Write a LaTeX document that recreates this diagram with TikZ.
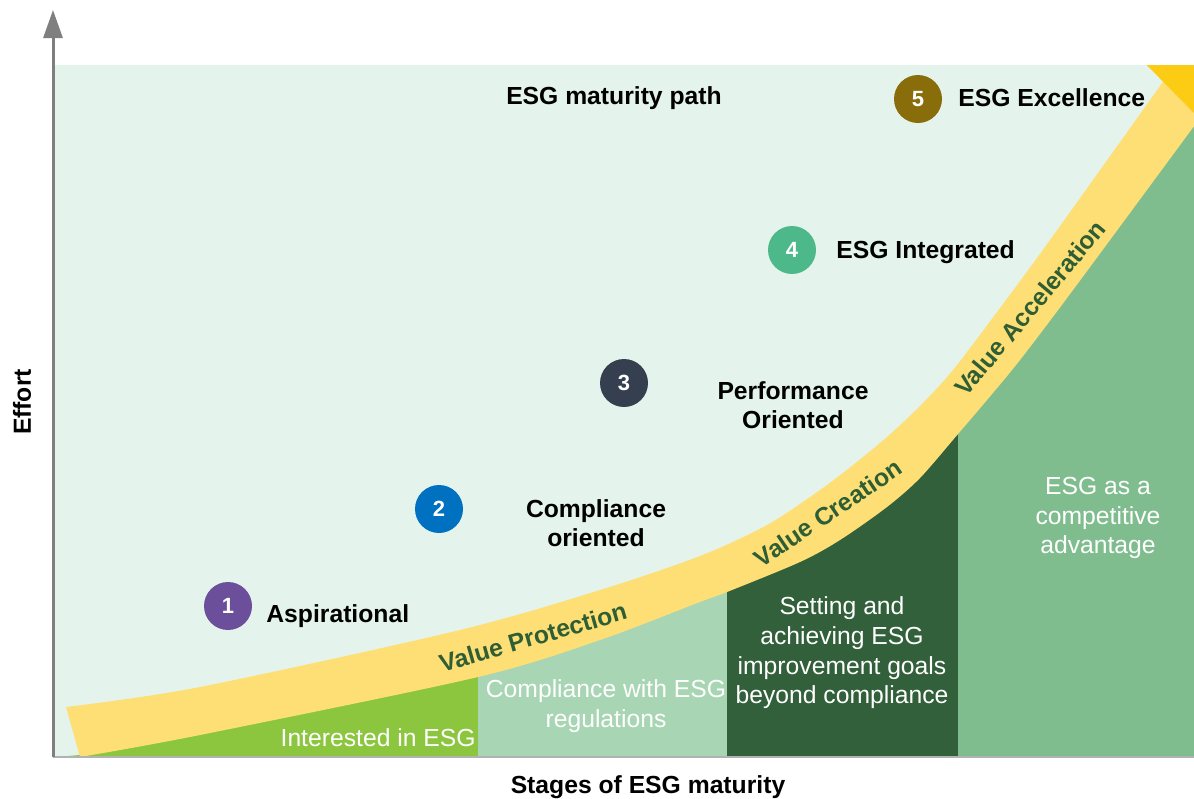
\documentclass[tikz,border=0pt]{standalone}
\usepackage{fontspec}
\setmainfont{Liberation Sans}
\usetikzlibrary{arrows.meta}
\definecolor{panelmint}{HTML}{E4F4EC}
\definecolor{bandyellow}{HTML}{FEDF76}
\definecolor{headyellow}{HTML}{FCCB14}
\definecolor{stageA}{HTML}{8CC63F}
\definecolor{stageB}{HTML}{A8D5B3}
\definecolor{stageC}{HTML}{31603A}
\definecolor{stageD}{HTML}{80BD8E}
\definecolor{bandtext}{HTML}{2F5E35}
\definecolor{dotA}{HTML}{6B4F9A}
\definecolor{dotB}{HTML}{0070C0}
\definecolor{dotC}{HTML}{353F4F}
\definecolor{dotD}{HTML}{4DB88A}
\definecolor{dotE}{HTML}{8A6D0B}
\definecolor{axisgray}{HTML}{7F7F7F}
\tikzset{
	numdot/.style={circle,minimum size=24pt,inner sep=0pt,text=white,font=\fontsize{11}{13}\selectfont\bfseries},
	levellabel/.style={font=\fontsize{12.35}{14.8}\selectfont\bfseries,align=center,inner sep=0pt},
	stagelabel/.style={text=white,font=\fontsize{12.35}{14.8}\selectfont,align=center,inner sep=0pt},
	bandlabel/.style={text=bandtext,font=\fontsize{12.35}{14.8}\selectfont\bfseries,inner sep=0pt},
}

\begin{document}
\begin{tikzpicture}[x=0.5pt,y=-0.5pt]
		\useasboundingbox (0,0) rectangle (1194,798);
		\fill[panelmint] (55,65) rectangle (1194,757);
		\begin{scope}
			\clip (55,65) rectangle (1194,757);
			\begin{scope}
				\clip (55,757) -- plot[smooth] coordinates {(80,755) (200,733) (478,675) (600,638) (700,600) (727,590) (800,560) (840,538) (887,505) (920,476) (958,432) (987,398) (1020,358) (1073,288) (1200,116)} -- (1200,757) -- cycle;
				\foreach \a/\b/\c in {55/478/stageA,478/727/stageB,727/958/stageC,958/1200/stageD} \fill[\c] (\a,60) rectangle (\b,757);
			\end{scope}
			\fill[bandyellow] plot[smooth] coordinates {(80,757) (200,735) (478,677) (600,640) (700,602) (727,592) (800,562) (840,540) (887,507) (920,478) (958,434) (987,400) (1020,360) (1073,290) (1200,118)} -- plot[smooth] coordinates {(1165,79) (1050,240) (1000,308) (953,370) (920,406) (887,437) (853,465) (820,490) (767,525) (700,556) (600,590) (460,630) (200,687) (66,707)} -- cycle;
			\fill[headyellow] (1130,48) -- (1245,165) -- (1260,-10) -- cycle;
		\end{scope}
		\coordinate (origin) at (53,757);
		\coordinate (ytip) at (53,10);
		\coordinate (xend) at (1194,757);
		\draw[axisgray!60,line width=1pt] (origin) -- (xend);
		\draw[axisgray,line width=1.5pt,-{Triangle[length=14pt,width=9.5pt]}] (origin) -- (ytip);
		\foreach \n/\x/\y/\c in {1/228/606/dotA,2/439/509/dotB,3/624/383/dotC,4/792/250/dotD,5/918/99/dotE} \node[numdot,fill=\c] (dot\n) at (\x,\y) {\n};
		\node[levellabel,anchor=base] (title) at (614,104) {ESG maturity path};
		\node[levellabel,anchor=base west] (level1) at (266,622) {Aspirational};
		\node[levellabel] (level2) at (596,523) {Compliance\\oriented};
		\node[levellabel] (level3) at (793,405) {Performance\\Oriented};
		\node[levellabel,anchor=base west] (level4) at (836,258) {ESG Integrated};
		\node[levellabel,anchor=base west] (level5) at (958,106) {ESG Excellence};
		\node[stagelabel,anchor=base east] (stage1) at (476,746) {Interested in ESG};
		\node[stagelabel] (stage2) at (606,706) {Compliance with ESG\\regulations};
		\node[stagelabel] (stage3) at (842,653) {Setting and\\achieving ESG\\improvement goals\\beyond compliance};
		\node[stagelabel] (stage4) at (1098,518) {ESG as a\\competitive\\advantage};
		\node[bandlabel,rotate=16] (protect) at (533,637) {Value Protection};
		\node[bandlabel,rotate=34] (create) at (828,513) {Value Creation};
		\node[bandlabel,rotate=50] (accel) at (1030,308) {Value Acceleration};
		\node[levellabel,rotate=90] (effort) at (22,402) {Effort};
		\node[levellabel,anchor=base] (stages) at (648,793) {Stages of ESG maturity};
	\end{tikzpicture}
\end{document}
